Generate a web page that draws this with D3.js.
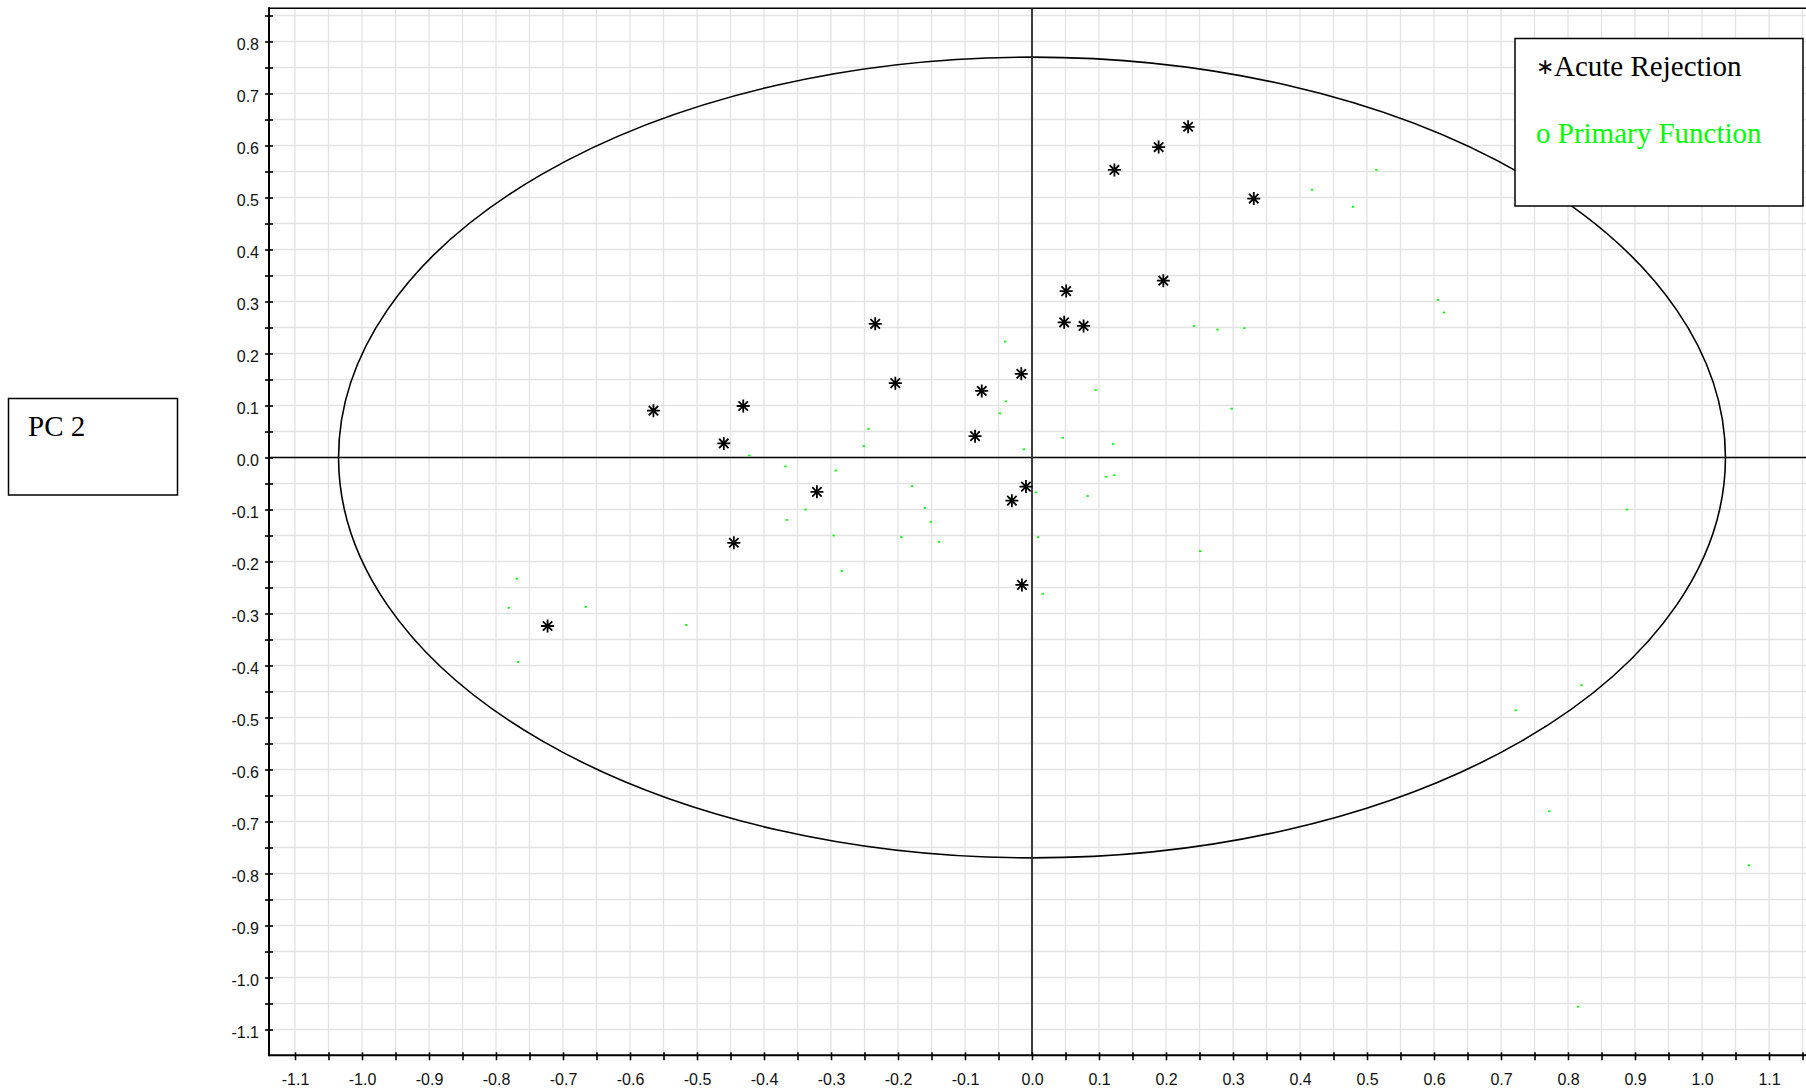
<!DOCTYPE html>
<html><head><meta charset="utf-8">
<script src="https://cdn.jsdelivr.net/npm/d3@7"></script>
<style>html,body{margin:0;padding:0;background:#fff;}svg{display:block;}</style>
</head><body>
<svg id="chart" width="1806" height="1092"></svg>
<script>
// ---- data (PC1, PC2) ----
const acuteRejection = [
  [0.233, 0.636], [0.189, 0.597], [0.123, 0.553], [0.331, 0.498], [0.196, 0.340],
  [0.051, 0.320], [0.048, 0.260], [0.077, 0.253], [-0.234, 0.257], [-0.016, 0.161],
  [-0.204, 0.143], [-0.075, 0.128], [-0.565, 0.090], [-0.431, 0.099], [-0.460, 0.027],
  [-0.085, 0.041], [-0.321, -0.066], [-0.009, -0.056], [-0.030, -0.083], [-0.445, -0.164],
  [-0.015, -0.245], [-0.723, -0.324]
];
const primaryFunction = [
  [-0.039, 0.108], [-0.048, 0.085], [-0.244, 0.055], [-0.251, 0.022], [-0.012, 0.016],
  [-0.422, 0.004], [-0.368, -0.017], [-0.293, -0.025], [-0.179, -0.055], [0.006, -0.067],
  [-0.160, -0.097], [-0.033, -0.078], [-0.338, -0.100], [-0.366, -0.120], [-0.151, -0.124],
  [-0.296, -0.150], [-0.195, -0.153], [-0.139, -0.162], [0.009, -0.153], [-0.284, -0.218],
  [0.016, -0.262], [-0.769, -0.233], [-0.781, -0.289], [-0.666, -0.287], [-0.516, -0.322],
  [-0.767, -0.393], [-0.040, 0.223], [0.095, 0.130], [0.242, 0.253], [0.277, 0.246],
  [0.317, 0.249], [0.298, 0.094], [0.046, 0.038], [0.121, 0.026], [0.111, -0.037],
  [0.123, -0.034], [0.083, -0.074], [0.251, -0.180], [0.514, 0.553], [0.418, 0.515],
  [0.479, 0.482], [0.606, 0.303], [0.615, 0.279], [0.888, -0.100], [0.820, -0.438],
  [0.722, -0.486], [0.772, -0.680], [1.070, -0.784], [0.815, -1.056]
];
const xTickValues = [-1.1,-1.0,-0.9,-0.8,-0.7,-0.6,-0.5,-0.4,-0.3,-0.2,-0.1,0.0,0.1,0.2,0.3,0.4,0.5,0.6,0.7,0.8,0.9,1.0,1.1];
const xTickLabels = ["-1.1","-1.0","-0.9","-0.8","-0.7","-0.6","-0.5","-0.4","-0.3","-0.2","-0.1","0.0","0.1","0.2","0.3","0.4","0.5","0.6","0.7","0.8","0.9","1.0","1.1"];
const yTickValues = [-1.1,-1.0,-0.9,-0.8,-0.7,-0.6,-0.5,-0.4,-0.3,-0.2,-0.1,0.0,0.1,0.2,0.3,0.4,0.5,0.6,0.7,0.8];
const yTickLabels = ["-1.1","-1.0","-0.9","-0.8","-0.7","-0.6","-0.5","-0.4","-0.3","-0.2","-0.1","0.0","0.1","0.2","0.3","0.4","0.5","0.6","0.7","0.8"];
const legendLabels = ["Acute Rejection", "Primary Function"];
const legendMarks = ["\u2217", "o "];
const axisTitle = "PC 2";
const ellipseRadii = [1.035, 0.77];

// ---- layout ----
const W = 1806, H = 1092;
const plotLeft = 269, plotTop = 8.3, plotBottom = 1055.3, plotRight = W;
const x = d3.scaleLinear().domain([-1.1, 1.1]).range([295, 1769]);
const y = d3.scaleLinear().domain([-1.1, 0.8]).range([1029.5, 41.5]);
const xMin = x.invert(plotLeft), xMax = x.invert(plotRight);
const yMin = y.invert(plotBottom), yMax = y.invert(plotTop);

const svg = d3.select("#chart");
const sans = "'Liberation Sans', Arial, sans-serif";
const serif = "'Liberation Serif', 'Times New Roman', serif";

// grid every 0.05
const gridXs = d3.range(-22, 24).map(i => i / 20).filter(v => v > xMin && v < xMax);
const gridYs = d3.range(-23, 18).map(i => i / 20).filter(v => v > yMin && v < yMax);
const grid = svg.append("g").attr("stroke", "#e3e3e3").attr("stroke-width", 1.3);
grid.selectAll("line.gx").data(gridXs).join("line").attr("class", "gx")
  .attr("x1", d => x(d)).attr("x2", d => x(d)).attr("y1", plotTop).attr("y2", plotBottom);
grid.selectAll("line.gy").data(gridYs).join("line").attr("class", "gy")
  .attr("y1", d => y(d)).attr("y2", d => y(d)).attr("x1", plotLeft).attr("x2", plotRight);

// ellipse
svg.append("ellipse")
  .attr("cx", x(0)).attr("cy", y(0))
  .attr("rx", x(ellipseRadii[0]) - x(0)).attr("ry", y(0) - y(ellipseRadii[1]))
  .attr("fill", "none").attr("stroke", "#000").attr("stroke-width", 1.6);

// zero lines
svg.append("line").attr("x1", plotLeft).attr("x2", plotRight).attr("y1", y(0)).attr("y2", y(0))
  .attr("stroke", "#000").attr("stroke-width", 1.6);
svg.append("line").attr("x1", x(0)).attr("x2", x(0)).attr("y1", plotTop).attr("y2", plotBottom)
  .attr("stroke", "#2a2a2a").attr("stroke-width", 1.8);

// axes
const yMinor = d3.range(-22, 18).map(i => i / 20);
const xMinor = d3.range(-22, 24).map(i => i / 20);
const yLab = new Map(yTickValues.map((v, i) => [Math.round(v * 20), yTickLabels[i]]));
const xLab = new Map(xTickValues.map((v, i) => [Math.round(v * 20), xTickLabels[i]]));

const gy = svg.append("g").attr("transform", `translate(${plotLeft},0)`)
  .call(d3.axisLeft(y).tickValues(yMinor).tickSizeOuter(0).tickSize(4)
    .tickFormat(d => yLab.get(Math.round(d * 20)) || ""));
gy.select(".domain").remove();
gy.selectAll(".tick line").attr("x1", 4).attr("x2", -4).attr("stroke", "#000").attr("stroke-width", 1.6);
gy.selectAll(".tick text").attr("x", -10).attr("dy", 0).attr("y", 7.5)
  .attr("font-family", sans).attr("font-size", 16).attr("fill", "#111");

const gx = svg.append("g").attr("transform", `translate(0,${plotBottom})`)
  .call(d3.axisBottom(x).tickValues(xMinor).tickSizeOuter(0).tickSize(5)
    .tickFormat(d => xLab.get(Math.round(d * 20)) || ""));
gx.select(".domain").remove();
gx.selectAll(".tick line").attr("y1", -3).attr("y2", 5).attr("stroke", "#000").attr("stroke-width", 1.6);
gx.selectAll(".tick text").attr("y", 30).attr("dy", 0)
  .attr("font-family", sans).attr("font-size", 16).attr("fill", "#111");

// frame lines
svg.append("line").attr("x1", plotLeft).attr("x2", plotLeft).attr("y1", plotTop - 1).attr("y2", plotBottom + 1)
  .attr("stroke", "#000").attr("stroke-width", 2);
svg.append("line").attr("x1", plotLeft).attr("x2", plotRight).attr("y1", plotBottom).attr("y2", plotBottom)
  .attr("stroke", "#000").attr("stroke-width", 2);
svg.append("line").attr("x1", plotLeft).attr("x2", plotRight).attr("y1", plotTop).attr("y2", plotTop)
  .attr("stroke", "#000").attr("stroke-width", 1.6);

// primary function points (tiny green marks)
svg.append("g").selectAll("rect").data(primaryFunction).join("rect")
  .attr("x", d => x(d[0]) - 1.2).attr("y", d => y(d[1]) - 0.8)
  .attr("width", 2.4).attr("height", 1.7).attr("fill", "#00ff00");

// acute rejection asterisks
const r = 6.5, rd = 4.7;
const star = `M0,${-r}V${r}M${-r},0H${r}M${-rd},${-rd}L${rd},${rd}M${-rd},${rd}L${rd},${-rd}`;
svg.append("g").selectAll("path").data(acuteRejection).join("path")
  .attr("transform", d => `translate(${x(d[0])},${y(d[1])})`)
  .attr("d", star).attr("stroke", "#000").attr("stroke-width", 1.8).attr("fill", "none");

// legend
const lg = svg.append("g");
lg.append("rect").attr("x", 1515).attr("y", 38.5).attr("width", 288).attr("height", 167.5)
  .attr("fill", "#fff").attr("stroke", "#000").attr("stroke-width", 1.5);
const t1 = lg.append("text").attr("x", 1536).attr("y", 76).attr("font-family", serif).attr("font-size", 29).attr("fill", "#000");
t1.append("tspan").attr("font-size", 22).attr("dy", -2).text(legendMarks[0]);
t1.append("tspan").attr("dy", 2).text(legendLabels[0]);
lg.append("text").attr("x", 1536).attr("y", 143).attr("font-family", serif).attr("font-size", 29)
  .attr("fill", "#00ff00").text(legendMarks[1] + legendLabels[1]);

// PC 2 title box
svg.append("rect").attr("x", 8.5).attr("y", 398.5).attr("width", 169).attr("height", 96.5)
  .attr("fill", "#fff").attr("stroke", "#000").attr("stroke-width", 1.5);
svg.append("text").attr("x", 28).attr("y", 436).attr("font-family", serif).attr("font-size", 29)
  .attr("fill", "#000").text(axisTitle);
</script>
</body></html>
